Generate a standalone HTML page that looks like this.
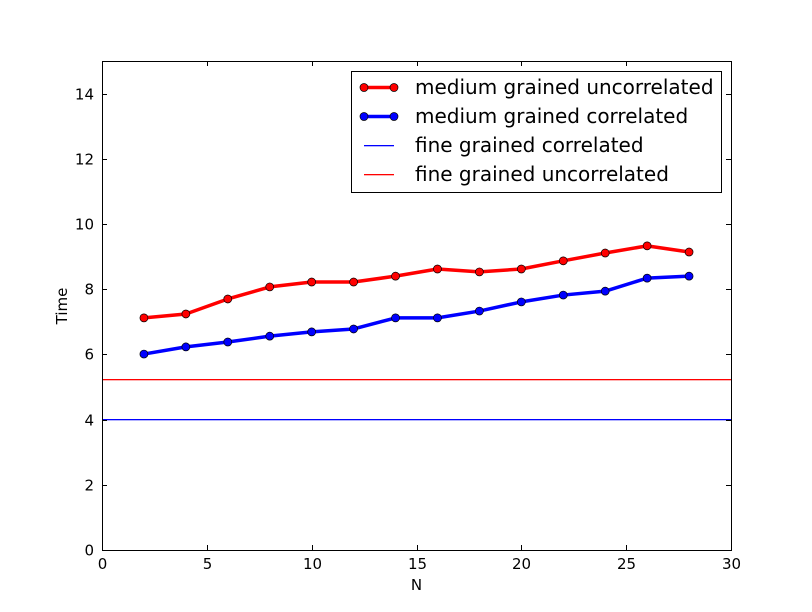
<!DOCTYPE html>
<html><head><meta charset="utf-8"><style>
body{margin:0;background:#fff;}
svg{display:block;font-family:"DejaVu Sans","Liberation Sans",sans-serif;}
</style></head><body>
<svg id="chart" width="812" height="612"></svg>
<script>
const nValues=[2,4,6,8,10,12,14,16,18,20,22,24,26,28];
const mediumUncorrelated=[7.12,7.24,7.70,8.07,8.22,8.22,8.40,8.62,8.53,8.62,8.87,9.11,9.33,9.14];
const mediumCorrelated=[6.01,6.23,6.38,6.56,6.69,6.78,7.12,7.12,7.33,7.61,7.82,7.94,8.34,8.40];
const fineCorrelated=4.02;
const fineUncorrelated=5.25;
const xTicks=[0,5,10,15,20,25,30];
const yTicks=[0,2,4,6,8,10,12,14];
const legendLabels=["medium grained uncorrelated","medium grained correlated","fine grained correlated","fine grained uncorrelated"];

const L=102,R=731,T=61,B=550;
const xs=v=>L+(v-0)/30*(R-L);
const ys=v=>B-(v-0)/15*(B-T);
const svg=document.getElementById('chart');
const NS='http://www.w3.org/2000/svg';
function mk(tag,attrs,parent){const e=document.createElementNS(NS,tag);for(const k in attrs)e.setAttribute(k,attrs[k]);(parent||svg).appendChild(e);return e;}

let h=mk('rect',{x:L,width:R-L,y:Math.round(ys(fineCorrelated)),height:1.3,fill:'#0000ff'});


h=mk('rect',{x:L,width:R-L,y:Math.round(ys(fineUncorrelated)),height:1.3,fill:'#ff0000'});



function series(vals,color,name){
  const g=mk('g',{});
  
  
  mk('polyline',{points:vals.map((v,i)=>xs(nValues[i])+','+ys(v)).join(' '),fill:'none',stroke:color,'stroke-width':3.5,'stroke-linejoin':'round'},g);
  vals.forEach((v,i)=>{
    const c=mk('circle',{cx:xs(nValues[i]),cy:ys(v),r:4,fill:color,stroke:'#000','stroke-width':0.7},g);
    
    
  });
}
series(mediumUncorrelated,'#ff0000','medium-uncorrelated-series');
series(mediumCorrelated,'#0000ff','medium-correlated-series');

const fr=mk('rect',{x:L+0.5,y:T+0.5,width:R-L,height:B-T,fill:'none',stroke:'#000','stroke-width':1});



xTicks.forEach(t=>{
  const x=Math.round(xs(t))+0.5;
  mk('line',{x1:x,x2:x,y1:B,y2:B-5,stroke:'#000'});
  mk('line',{x1:x,x2:x,y1:T,y2:T+5,stroke:'#000'});
  const tx=mk('text',{x:x,y:B+19,'text-anchor':'middle','font-size':15});
  tx.textContent=t;
  
  
});
yTicks.forEach(t=>{
  const y=Math.round(ys(t))+0.5;
  mk('line',{x1:L,x2:L+5,y1:y,y2:y,stroke:'#000'});
  mk('line',{x1:R,x2:R-5,y1:y,y2:y,stroke:'#000'});
  const tx=mk('text',{x:L-8,y:y+5,'text-anchor':'end','font-size':15});
  tx.textContent=t;
  
  
});
let t=mk('text',{x:(L+R)/2,y:590,'text-anchor':'middle','font-size':15});
t.textContent='N';


t=mk('text',{x:67,y:306,'text-anchor':'middle','font-size':15,transform:'rotate(-90 67 306)'});
t.textContent='Time';



const lg=mk('g',{});


mk('rect',{x:351.5,y:71.5,width:370,height:121,fill:'#fff',stroke:'#000','stroke-width':1},lg);
const lc=['#ff0000','#0000ff','#0000ff','#ff0000'];
legendLabels.forEach((lab,i)=>{
  const y=87+i*29;
  const e=mk('g',{},lg);
  
  
  if(i<2){
    mk('line',{x1:364,x2:394,y1:y+0.5,y2:y+0.5,stroke:lc[i],'stroke-width':3.5},e);
    mk('circle',{cx:364,cy:y+0.5,r:4,fill:lc[i],stroke:'#000','stroke-width':0.7},e);
    mk('circle',{cx:394,cy:y+0.5,r:4,fill:lc[i],stroke:'#000','stroke-width':0.7},e);
  } else {
    mk('rect',{x:364,width:30,y:y,height:1.3,fill:lc[i]},e);
  }
  const tx=mk('text',{x:415,y:y+7,'font-size':20},e);
  tx.textContent=lab;
});
</script>
</body></html>
